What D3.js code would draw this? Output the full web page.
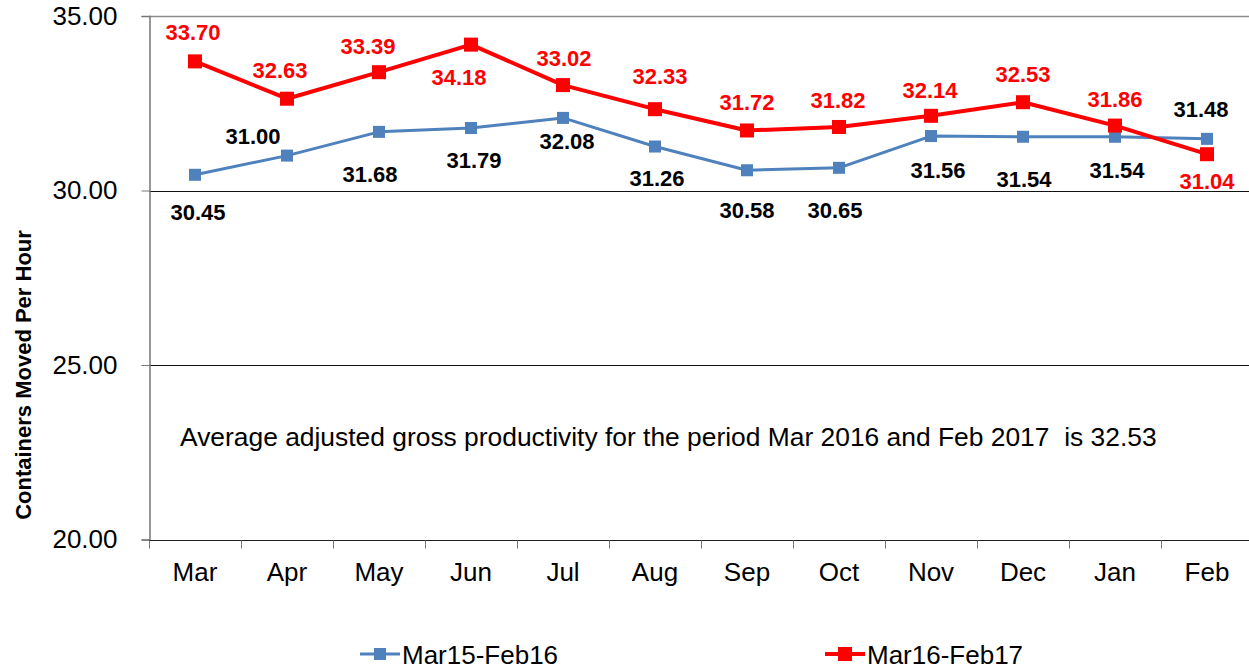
<!DOCTYPE html>
<html>
<head>
<meta charset="utf-8">
<script src="https://cdn.jsdelivr.net/npm/d3@7"></script>
<style>
  body { margin: 0; background: #fff; }
  svg { display: block; font-family: "Liberation Sans", Arial, sans-serif; }
</style>
</head>
<body>
<svg id="chart" width="1249" height="670"></svg>
<script>
var months = ["Mar", "Apr", "May", "Jun", "Jul", "Aug", "Sep", "Oct", "Nov", "Dec", "Jan", "Feb"];
var prevYear = [30.45, 31.00, 31.68, 31.79, 32.08, 31.26, 30.58, 30.65, 31.56, 31.54, 31.54, 31.48];
var currYear = [33.70, 32.63, 33.39, 34.18, 33.02, 32.33, 31.72, 31.82, 32.14, 32.53, 31.86, 31.04];
var yTicks = [20, 25, 30, 35];
var seriesNames = ["Mar15-Feb16", "Mar16-Feb17"];
var note = "Average adjusted gross productivity for the period Mar 2016 and Feb 2017  is 32.53";

// label nudges (layout only), centre of label relative to marker
var prevLabelDx = [3, -34, -9, 3, 4, 2, 0, -4, 7, 1, 2, -6];
var prevLabelDy = [37, -20, 42, 32, 23, 32, 40, 42, 34, 42, 33, -30];
var currLabelDx = [-2, -7, -11, -12, 1, 5, 0, -1, -1, 0, 0, 0];
var currLabelDy = [-29, -29, -26, 32, -27, -33, -28, -27, -26, -28, -27, 27];

var svg = d3.select("#chart");
var plotLeft = 149, plotRight = 1253, plotTop = 16, plotBottom = 539.5;

var x = d3.scaleBand().domain(months).range([plotLeft, plotRight]).padding(0);
var y = d3.scaleLinear().domain([20, 35]).range([plotBottom, plotTop]);

// gridlines
svg.append("g").selectAll("line")
  .data(yTicks.filter(function(d) { return d > 20; }))
  .enter().append("line")
  .attr("x1", plotLeft).attr("x2", plotRight)
  .attr("y1", function(d) { return Math.round(y(d)) + 0.5; })
  .attr("y2", function(d) { return Math.round(y(d)) + 0.5; })
  .attr("stroke", function(d) { return d == 35 ? "#8c8c8c" : "#111"; })
  .attr("stroke-width", function(d) { return d == 35 ? 1.5 : 1; });

// y axis
var yAxis = svg.append("g")
  .attr("transform", "translate(" + (plotLeft + 0.5) + ",0)")
  .call(d3.axisLeft(y).tickValues(yTicks).tickSize(8).tickPadding(24).tickFormat(d3.format(".2f")));
yAxis.select(".domain").attr("stroke", "#777").attr("stroke-width", 1.5);
yAxis.selectAll(".tick line").attr("stroke", "#777");
yAxis.selectAll("text").attr("font-size", 26).attr("fill", "#000")
  .attr("font-family", "Liberation Sans, Arial, sans-serif");

// x axis with ticks at band boundaries
var xAxisG = svg.append("g").attr("transform", "translate(0," + (Math.round(plotBottom) + 0.5) + ")");
xAxisG.append("line").attr("x1", plotLeft).attr("x2", plotRight).attr("stroke", "#222").attr("stroke-width", 1);
xAxisG.selectAll(".bt")
  .data(months)
  .enter().append("line")
  .attr("class", "bt")
  .attr("x1", function(d) { return Math.round(x(d)) + 0.5; })
  .attr("x2", function(d) { return Math.round(x(d)) + 0.5; })
  .attr("y1", 0).attr("y2", 8)
  .attr("stroke", "#777");
xAxisG.selectAll(".ml")
  .data(months)
  .enter().append("text")
  .attr("x", function(d) { return x(d) + x.bandwidth() / 2; })
  .attr("y", 40)
  .attr("text-anchor", "middle")
  .attr("font-size", 26)
  .text(function(d) { return d; });

// y title
svg.append("text")
  .attr("transform", "translate(31,375) rotate(-90)")
  .attr("text-anchor", "middle")
  .attr("font-size", 22)
  .attr("font-weight", "bold")
  .text("Containers Moved Per Hour");

// note
svg.append("text")
  .attr("x", 180).attr("y", 446)
  .attr("font-size", 26.4)
  .attr("xml:space", "preserve")
  .style("white-space", "pre")
  .text(note);

var cx = function(d, i) { return x(months[i]) + x.bandwidth() / 2; };
var line = d3.line().x(cx).y(function(d) { return y(d); });

var series = [
  { values: prevYear, color: "#4F81BD", width: 3, size: 12, labelColor: "#000", dx: prevLabelDx, dy: prevLabelDy },
  { values: currYear, color: "#FF0000", width: 4, size: 14, labelColor: "#FF0000", dx: currLabelDx, dy: currLabelDy }
];

series.forEach(function(s) {
  svg.append("path")
    .datum(s.values)
    .attr("d", line)
    .attr("fill", "none")
    .attr("stroke", s.color)
    .attr("stroke-width", s.width)
    .attr("stroke-linejoin", "round");
  svg.append("g").selectAll("rect")
    .data(s.values)
    .enter().append("rect")
    .attr("x", function(d, i) { return cx(d, i) - s.size / 2; })
    .attr("y", function(d) { return y(d) - s.size / 2; })
    .attr("width", s.size).attr("height", s.size)
    .attr("fill", s.color);
});

series.forEach(function(s) {
  svg.append("g").selectAll("text")
    .data(s.values)
    .enter().append("text")
    .attr("x", function(d, i) { return cx(d, i) + s.dx[i]; })
    .attr("y", function(d, i) { return y(d) + s.dy[i]; })
    .attr("dy", "0.36em")
    .attr("text-anchor", "middle")
    .attr("font-size", 22)
    .attr("font-weight", "bold")
    .attr("fill", s.labelColor)
    .text(function(d) { return d.toFixed(2); });
});

// legend
var legendX = [360, 825];
var legend = svg.append("g").selectAll("g")
  .data(series)
  .enter().append("g")
  .attr("transform", function(d, i) { return "translate(" + legendX[i] + ",654)"; });
legend.append("line")
  .attr("x1", 0).attr("x2", 40)
  .attr("stroke", function(d) { return d.color; })
  .attr("stroke-width", function(d) { return d.width; });
legend.append("rect")
  .attr("x", function(d) { return 20 - d.size / 2; })
  .attr("y", function(d) { return -d.size / 2; })
  .attr("width", function(d) { return d.size; })
  .attr("height", function(d) { return d.size; })
  .attr("fill", function(d) { return d.color; });
legend.append("text")
  .attr("x", 42).attr("y", 10)
  .attr("font-size", 26)
  .text(function(d, i) { return seriesNames[i]; });
</script>
</body>
</html>
